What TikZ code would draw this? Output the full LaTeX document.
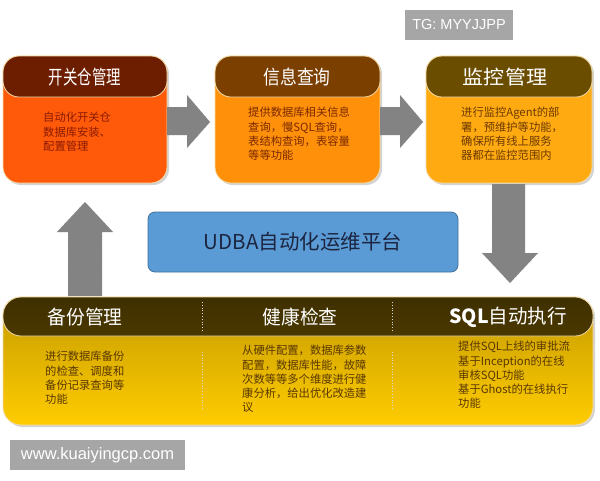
\documentclass[tikz,border=0pt]{standalone}
\usepackage{fontspec}
\setmainfont{Noto Sans CJK SC}
\newfontfamily\wmfont{Liberation Sans}
\usetikzlibrary{shadows}
\definecolor{hdA}{HTML}{6E1E00}
\definecolor{bdA}{HTML}{FF5A0A}
\definecolor{txA}{HTML}{8B1A00}
\definecolor{hdB}{HTML}{7B3F00}
\definecolor{bdB}{HTML}{FF900A}
\definecolor{txB}{HTML}{7A2A00}
\definecolor{hdC}{HTML}{6B4D00}
\definecolor{bdC}{HTML}{FFAA10}
\definecolor{txC}{HTML}{6B3A00}
\definecolor{hdD}{HTML}{4A3800}
\definecolor{bdDtop}{HTML}{C49A00}
\definecolor{bdDbot}{HTML}{FFCC00}
\definecolor{txD}{HTML}{5A3800}
\definecolor{rim}{HTML}{F3DCA8}
\definecolor{arrowgrey}{HTML}{838383}
\definecolor{platform}{HTML}{5B9BD5}
\definecolor{platformedge}{HTML}{41719C}
\definecolor{platformtext}{HTML}{1C2540}
\definecolor{wmgrey}{HTML}{A6A6A6}
\newcommand{\ttl}[2]{\scalebox{#1}[1]{#2}}
\begin{document}
\begin{tikzpicture}[x=1pt,y=-1pt,
  bodybox/.style={rounded corners=16pt, draw=rim, line width=0.8pt,
    drop shadow={shadow xshift=2pt, shadow yshift=-2pt, opacity=0.35}},
  headbox/.style={rounded corners=16pt, draw=rim, line width=0.8pt},
  title/.style={text=white, font=\fontsize{19.5}{21}\selectfont},
  bodytext/.style={anchor=north west, align=left, inner sep=0pt,
    font=\fontsize{11.3}{14.3}\selectfont},
  blockarrow/.style={fill=arrowgrey, draw=arrowgrey!80!white, line width=0.4pt, dotted},
  divider/.style={draw=white!85!black, dotted, line width=0.8pt},
  watermark/.style={fill=wmgrey, text=white, inner sep=0pt}
]
\useasboundingbox (0,0) rectangle (600,480);

% ---- top boxes ----
\path[bodybox, fill=bdA] (3,56) rectangle (167,183);
\path[headbox, fill=hdA] (3,56) rectangle (167,97);
\node[title] (tA) at (85,77) {\ttl{0.74}{开关仓管理}};
\node[bodytext, text=txA] (xA) at (43,112) {自动化开关仓\\数据库安装、\\配置管理};

\path[bodybox, fill=bdB] (215,56) rectangle (380,183);
\path[headbox, fill=hdB] (215,56) rectangle (380,97);
\node[title] (tB) at (297,77) {\ttl{0.86}{信息查询}};
\node[bodytext, text=txB] (xB) at (248,107) {提供数据库相关信息\\查询，慢SQL查询，\\表结构查询，表容量\\等等功能};

\path[bodybox, fill=bdC] (426,56) rectangle (592,183);
\path[headbox, fill=hdC] (426,56) rectangle (592,97);
\node[title] (tC) at (505,77) {\ttl{1.08}{监控管理}};
\node[bodytext, text=txC] (xC) at (461,107) {进行监控Agent的部\\署，预维护等功能，\\确保所有线上服务\\器都在监控范围内};

% ---- arrows ----
\path[blockarrow] (167,107) -- (187,107) -- (187,95) -- (210,122) -- (187,148) -- (187,135) -- (167,135) -- cycle;
\path[blockarrow] (380,107) -- (400,107) -- (400,95) -- (423,122) -- (400,148) -- (400,135) -- (380,135) -- cycle;
\path[blockarrow] (492,184) -- (525,184) -- (525,253) -- (538,253) -- (510,283) -- (482,253) -- (492,253) -- cycle;
\path[blockarrow] (68,296) -- (68,232) -- (57,232) -- (85,202) -- (113,232) -- (102,232) -- (102,296) -- cycle;

% ---- platform ----
\node[draw=platformedge, fill=platform, rounded corners=7pt, line width=0.8pt,
  minimum width=310pt, minimum height=60pt, inner sep=0pt,
  font=\fontsize{20.5}{22}\selectfont, text=platformtext] (plat) at (303,242) {UDBA自动化运维平台};

% ---- bottom box ----
\path[bodybox, top color=bdDtop, bottom color=bdDbot, draw=rim, rounded corners=18pt]
  (3,297) rectangle (593,425);
\path[headbox, top color=hdD!85!black, bottom color=hdD, rounded corners=18pt] (3,297) rectangle (593,336);
\draw[divider] (202,302) -- (202,332);
\draw[divider] (392,302) -- (392,332);
\draw[divider] (202,352) -- (202,410);
\draw[divider] (392,352) -- (392,410);

\node[title] (tD) at (85,317) {\ttl{0.96}{备份管理}};
\node[title] (tE) at (300,317) {\ttl{0.96}{健康检查}};
\node[title] (tF) at (508,317) {\textbf{SQL}自动执行};

\node[bodytext, text=txD] (xD) at (45,351) {进行数据库备份\\的检查、调度和\\备份记录查询等\\功能};
\node[bodytext, text=txD] (xE) at (242,345) {从硬件配置，数据库参数\\配置，数据库性能，故障\\次数等等多个维度进行健\\康分析，给出优化改造建\\议};
\node[bodytext, text=txD] (xF) at (458,341) {提供SQL上线的审批流\\基于Inception的在线\\审核SQL功能\\基于Ghost的在线执行\\功能};

% ---- watermarks ----
\node[watermark, minimum width=108pt, minimum height=30pt, font=\wmfont\fontsize{14.5}{16}\selectfont] (w1) at (459,25) {TG: MYYJJPP};
\node[watermark, minimum width=175pt, minimum height=30pt, font=\wmfont\fontsize{16.5}{18}\selectfont] (w2) at (97.5,455) {www.kuaiyingcp.com};
\end{tikzpicture}
\end{document}
